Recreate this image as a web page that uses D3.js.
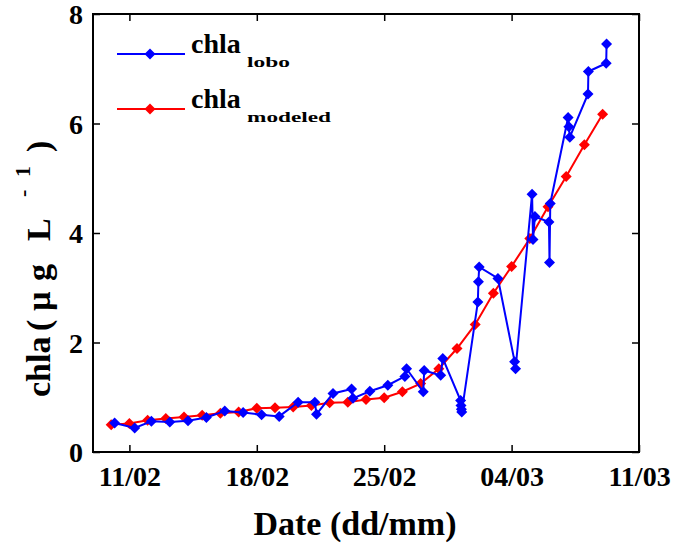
<!DOCTYPE html>
<html>
<head>
<meta charset="utf-8">
<script src="https://cdn.jsdelivr.net/npm/d3@7"></script>
<style>
    body { margin: 0; background: #fff; }
    svg { display: block; }
</style>
</head>
<body>
<div id="chart"></div>
<script>
// chla measured by the LOBO buoy (irregular sampling times)
const loboTimes = [
    "2011-02-10T04:30", "2011-02-11T07:00", "2011-02-12T05:00", "2011-02-13T05:15",
    "2011-02-14T05:15", "2011-02-15T05:30", "2011-02-16T05:45", "2011-02-17T06:00",
    "2011-02-18T06:15", "2011-02-19T05:30", "2011-02-20T06:30", "2011-02-21T04:30",
    "2011-02-21T06:45", "2011-02-22T04:30", "2011-02-23T05:00", "2011-02-23T06:45",
    "2011-02-24T05:00", "2011-02-25T04:45", "2011-02-26T03:15", "2011-02-26T05:30",
    "2011-02-27T03:30", "2011-02-27T04:45", "2011-02-28T02:30", "2011-02-28T05:15",
    "2011-03-01T04:45", "2011-03-01T05:15", "2011-03-01T05:45", "2011-03-01T06:15",
    "2011-03-02T03:30", "2011-03-02T04:15", "2011-03-02T05:15", "2011-03-03T06:00",
    "2011-03-04T04:00", "2011-03-04T05:15", "2011-03-05T03:00", "2011-03-05T04:15",
    "2011-03-05T06:45", "2011-03-06T01:15", "2011-03-06T02:00", "2011-03-06T03:00",
    "2011-03-07T02:30", "2011-03-07T03:30", "2011-03-07T04:45", "2011-03-08T04:45",
    "2011-03-08T05:15", "2011-03-09T04:45", "2011-03-09T05:15"
];
const loboValues = [
    0.53, 0.44, 0.56, 0.55,
    0.57, 0.63, 0.75, 0.72,
    0.68, 0.65, 0.91, 0.91,
    0.69, 1.07, 1.15, 0.98,
    1.11, 1.22, 1.38, 1.52,
    1.10, 1.49, 1.40, 1.71,
    0.94, 0.85, 0.78, 0.73,
    2.74, 3.11, 3.38, 3.17,
    1.65, 1.52, 4.71, 3.88,
    4.30, 4.20, 3.46, 4.54,
    6.11, 5.94, 5.75, 6.54,
    6.95, 7.10, 7.45
];

// modeled chla, one value per day
const modelDates = [
    "2011-02-10", "2011-02-11", "2011-02-12", "2011-02-13", "2011-02-14", "2011-02-15", "2011-02-16",
    "2011-02-17", "2011-02-18", "2011-02-19", "2011-02-20", "2011-02-21", "2011-02-22", "2011-02-23",
    "2011-02-24", "2011-02-25", "2011-02-26", "2011-02-27", "2011-02-28", "2011-03-01", "2011-03-02",
    "2011-03-03", "2011-03-04", "2011-03-05", "2011-03-06", "2011-03-07", "2011-03-08", "2011-03-09"
];
const modelValues = [
    0.50, 0.52, 0.58, 0.61, 0.64, 0.67, 0.71,
    0.73, 0.80, 0.81, 0.82, 0.85, 0.90, 0.91,
    0.96, 0.99, 1.10, 1.25, 1.52, 1.89, 2.33,
    2.90, 3.39, 3.90, 4.48, 5.03, 5.61, 6.17
];

const xTickLabels = ["11/02", "18/02", "25/02", "04/03", "11/03"];
const yTickValues = [0, 2, 4, 6, 8];

const FONT = "'Liberation Serif', 'Times New Roman', serif";

const parseTime = d3.timeParse("%Y-%m-%dT%H:%M");
const parseDay = d3.timeParse("%Y-%m-%d");
const parseTick = d3.timeParse("%d/%m/%Y");

const lobo = loboTimes.map((t, i) => ({t: parseTime(t), v: loboValues[i]}));
const model = modelDates.map((t, i) => ({t: parseDay(t), v: modelValues[i]}));
const xTicks = xTickLabels.map(s => parseTick(s + "/2011"));

const W = 673, H = 547;
const margin = {top: 14, right: 34, bottom: 95, left: 93};
const width = W - margin.left - margin.right;
const height = H - margin.top - margin.bottom;

const svg = d3.select("#chart").append("svg")
    .attr("width", W)
    .attr("height", H);

const g = svg.append("g")
    .attr("transform", "translate(" + margin.left + "," + margin.top + ")");

const x = d3.scaleTime()
    .domain([parseDay("2011-02-09"), parseDay("2011-03-11")])
    .range([0, width]);
const y = d3.scaleLinear()
    .domain([0, 8])
    .range([height, 0]);

// axes, ticks pointing inward
const tickLen = 7;
const fmt = d3.timeFormat("%d/%m");

const xAxis = g.append("g")
    .attr("transform", "translate(0," + height + ")")
    .call(d3.axisBottom(x).tickValues(xTicks).tickFormat(fmt).tickSizeInner(-tickLen).tickSizeOuter(0));
xAxis.attr("font-family", null);
xAxis.selectAll("text")
    .attr("y", 34)
    .attr("dy", 0)
    .style("font-family", FONT)
    .style("font-weight", "bold")
    .style("font-size", "28px")
    .attr("fill", "#000");

g.append("g")
    .call(d3.axisTop(x).tickValues(xTicks).tickFormat("").tickSizeInner(-tickLen).tickSizeOuter(0));

const yAxis = g.append("g")
    .call(d3.axisLeft(y).tickValues(yTickValues).tickSizeInner(-tickLen).tickSizeOuter(0));
yAxis.attr("font-family", null);
yAxis.selectAll("text")
    .attr("x", -10)
    .attr("dy", "0.34em")
    .style("font-family", FONT)
    .style("font-weight", "bold")
    .style("font-size", "28px")
    .attr("fill", "#000");

g.append("g")
    .attr("transform", "translate(" + width + ",0)")
    .call(d3.axisRight(y).tickValues(yTickValues).tickFormat("").tickSizeInner(-tickLen).tickSizeOuter(0));

g.selectAll(".domain").remove();
g.selectAll(".tick line").attr("stroke", "#000").attr("stroke-width", 1.5);

// frame
g.append("rect")
    .attr("width", width)
    .attr("height", height)
    .attr("fill", "none")
    .attr("stroke", "#000")
    .attr("stroke-width", 2);

// series
const line = d3.line().x(d => x(d.t)).y(d => y(d.v));
const diamond = "M0,-5.5L5.5,0L0,5.5L-5.5,0Z";

const series = [
    {data: model, color: "#ff0000"},
    {data: lobo, color: "#0000ff"}
];

series.forEach(s => {
    g.append("path")
        .datum(s.data)
        .attr("d", line)
        .attr("fill", "none")
        .attr("stroke", s.color)
        .attr("stroke-width", 2);
    g.selectAll(null)
        .data(s.data)
        .enter()
        .append("path")
        .attr("d", diamond)
        .attr("transform", d => "translate(" + x(d.t) + "," + y(d.v) + ")")
        .attr("fill", s.color);
});

// legend
const legend = [
    {name: "chla", sub: "lobo", color: "#0000ff", y: 40, subLen: 43},
    {name: "chla", sub: "modeled", color: "#ff0000", y: 95, subLen: 84}
];
const lg = g.selectAll(".legend")
    .data(legend)
    .enter()
    .append("g")
    .attr("class", "legend")
    .attr("transform", d => "translate(0," + d.y + ")");
lg.append("line")
    .attr("x1", 24).attr("x2", 92)
    .attr("stroke", d => d.color)
    .attr("stroke-width", 2);
lg.append("path")
    .attr("d", diamond)
    .attr("transform", "translate(57,0)")
    .attr("fill", d => d.color);
lg.append("text")
    .attr("x", 98)
    .attr("y", -1)
    .style("font-family", FONT)
    .style("font-weight", "bold")
    .style("font-size", "28px")
    .text(d => d.name);
lg.append("text")
    .attr("x", 154)
    .attr("y", 13)
    .style("font-family", FONT)
    .style("font-weight", "bold")
    .style("font-size", "15px")
    .attr("textLength", d => d.subLen)
    .attr("lengthAdjust", "spacingAndGlyphs")
    .text(d => d.sub);

// axis titles
svg.append("text")
    .attr("x", 355)
    .attr("y", 535)
    .attr("text-anchor", "middle")
    .style("font-family", FONT)
    .style("font-weight", "bold")
    .style("font-size", "34px")
    .text("Date (dd/mm)");

const yt = svg.append("text")
    .attr("transform", "translate(50,397) rotate(-90)")
    .style("font-family", FONT)
    .style("font-weight", "bold")
    .style("font-size", "34px");
yt.append("tspan").attr("x", 0).text("chla");
yt.append("tspan").attr("x", 66).text("(");
yt.append("tspan").attr("x", 86).text("\u00b5");
yt.append("tspan").attr("x", 116).text("g");
yt.append("tspan").attr("x", 156).text("L");
yt.append("tspan").attr("x", 200).attr("y", -20).style("font-size", "22px").text("-");
yt.append("tspan").attr("x", 220).attr("y", -20).style("font-size", "22px").text("1");
yt.append("tspan").attr("x", 245).attr("y", 0).text(")");
</script>
</body>
</html>
